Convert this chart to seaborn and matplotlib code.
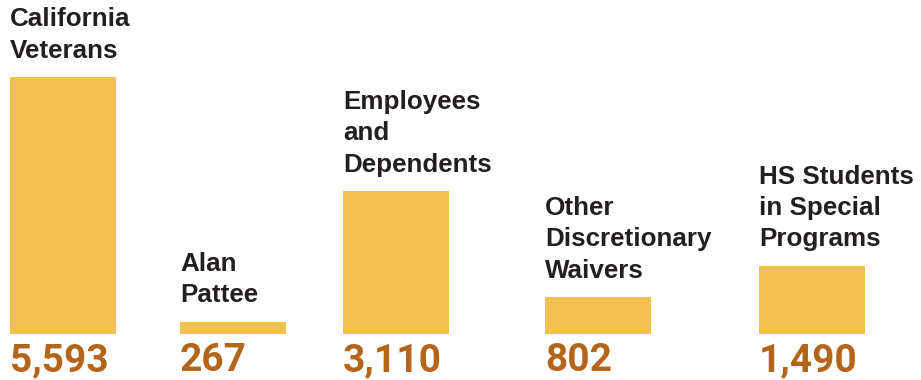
import matplotlib
matplotlib.use("Agg")
import matplotlib.pyplot as plt
import seaborn as sns
import pandas as pd

# ---- data ----
categories = [
    "California\nVeterans",
    "Alan\nPattee",
    "Employees\nand\nDependents",
    "Other\nDiscretionary\nWaivers",
    "HS Students\nin Special\nPrograms",
]
values = [5593, 267, 3110, 802, 1490]
value_labels = ["5,593", "267", "3,110", "802", "1,490"]

# ---- layout (pixel-like x coordinates) ----
centers = [63, 233, 396, 598, 812]
bar_px = 106
min_gap = 163

BAR_COLOR = "#F2C04C"
NUM_COLOR = "#B5651A"
TXT_COLOR = "#231F20"

sns.set_style("white")

fig = plt.figure(figsize=(9.21, 3.80), dpi=100)
ax = fig.add_axes([0, 46 / 380, 1, 334 / 380])

df = pd.DataFrame({"pos": centers, "value": values})
sns.barplot(data=df, x="pos", y="value", native_scale=True,
            width=bar_px / min_gap, color=BAR_COLOR, saturation=1,
            linewidth=0, errorbar=None, ax=ax)

ax.set_xlim(0, 921)
ax.set_ylim(0, 7270)
ax.axis("off")

patches = sorted(ax.patches, key=lambda p: p.get_x())
for patch, cat, lab in zip(patches, categories, value_labels):
    x0 = patch.get_x()
    h = patch.get_height()
    ax.annotate(cat, (x0, h), xytext=(0, 14.5), textcoords="offset pixels",
                ha="left", va="bottom", fontsize=18.7, fontweight="bold",
                family=["Liberation Sans", "DejaVu Sans"], color=TXT_COLOR,
                linespacing=1.38, annotation_clip=False)
    ax.annotate(lab, (x0, 0), xytext=(0, -37), textcoords="offset pixels",
                ha="left", va="baseline", fontsize=28, fontweight="bold",
                family=["Roboto", "DejaVu Sans"], color=NUM_COLOR,
                annotation_clip=False)

fig.savefig("out.png", dpi=100)
